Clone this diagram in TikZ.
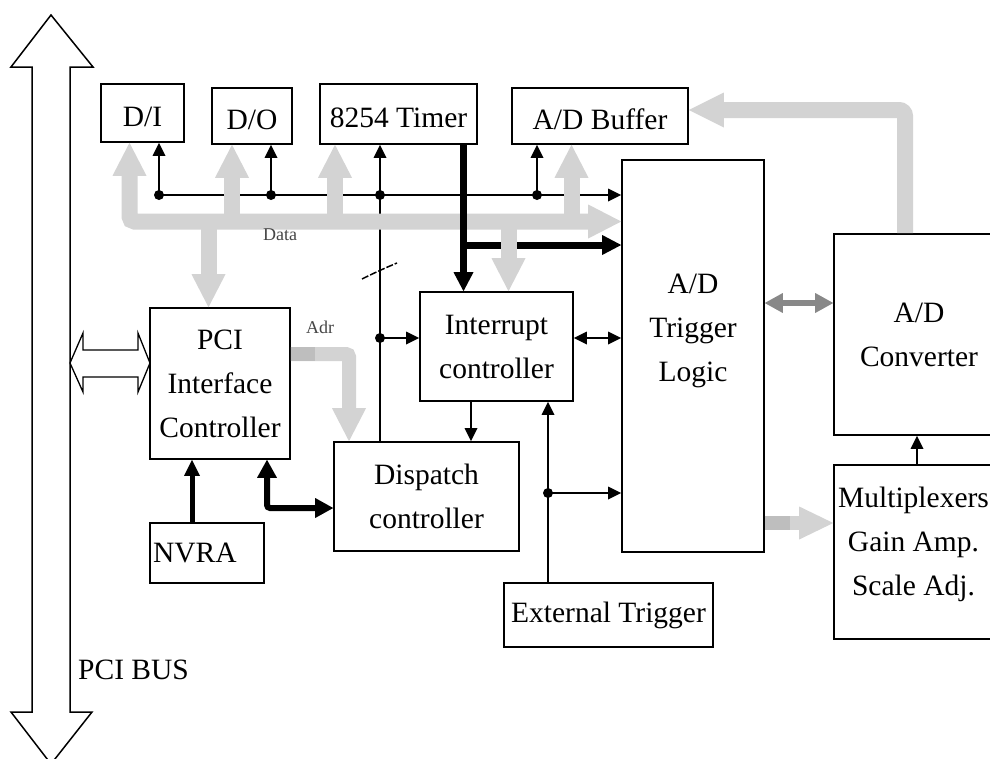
\documentclass[tikz,border=0pt]{standalone}
\usepackage{fontspec}
\setmainfont{Liberation Serif}
\usetikzlibrary{arrows.meta}
\definecolor{busgray}{RGB}{211,211,211}
\definecolor{busdark}{RGB}{190,190,190}
\definecolor{midgray}{RGB}{136,136,136}
\definecolor{labgray}{RGB}{70,70,70}
\newcommand\boxfont{\fontsize{29.5pt}{44pt}\selectfont}
\newcommand\smallfont{\fontsize{18pt}{20pt}\selectfont}
\begin{document}
\begin{tikzpicture}[x=1pt,y=-1pt,
  box/.style={draw, line width=1.6pt, inner sep=0pt, font=\boxfont, align=center},
  oneline/.style={text height=27pt, text depth=0pt},
  txt/.style={font=\boxfont, align=center, inner sep=0pt},
  fattip/.tip={Triangle[length=33pt,width=34pt,line width=0pt]},
  smalltip/.tip={Triangle[length=13pt,width=13pt,line width=0pt]},
  boldtip/.tip={Triangle[length=19pt,width=20pt,line width=0pt]},
  nvtip/.tip={Triangle[length=16pt,width=16pt,line width=0pt]},
  midtip/.tip={Triangle[length=18pt,width=20pt,line width=0pt]},
  busline/.style={draw=busgray, line width=16pt},
  busthin/.style={draw=busgray, line width=14pt},
  sig/.style={draw, line width=1.5pt},
  boldsig/.style={draw, line width=7pt},
  dot/.style={fill=black}
]
\clip (0,0) rectangle (990,758);
\fill[white] (0,0) rectangle (990,758);

% PCI bus big double arrow
\draw[line width=1.5pt, fill=white] (51,15) -- (93,67) -- (70,67) -- (70,712) -- (92,712) -- (51,764)
  -- (11,712) -- (32,712) -- (32,67) -- (11,67) -- cycle;
\node[txt, anchor=base west] (busl) at (78,679) {PCI BUS};

% small hollow double arrow
\draw[line width=1.3pt, fill=white] (70,363) -- (83,333) -- (83,350) -- (138,350) -- (138,333) -- (150,363)
  -- (138,392) -- (138,377) -- (83,377) -- (83,392) -- cycle;

% boxes
\node[box, oneline, minimum width=83pt, minimum height=58pt] (di) at (142.5,113) {D/I};
\node[box, oneline, minimum width=80pt, minimum height=56pt] (do) at (252,116) {D/O};
\node[box, oneline, minimum width=157pt, minimum height=60pt] (timer) at (398.5,114) {8254 Timer};
\node[box, oneline, minimum width=176pt, minimum height=56pt] (buf) at (600,116) {A/D Buffer};
\node[box, minimum width=142pt, minimum height=392pt] (tl) at (693,356) {};
\node[txt] (tltext) at (693,331) {A/D\\Trigger\\Logic};
\node[box, minimum width=170pt, minimum height=201pt] (conv) at (919,334.5) {A/D\\Converter};
\node[box, minimum width=170pt, minimum height=174pt] (mux) at (919,552) {};
\node[txt] (muxtext) at (913.5,544) {Multiplexers\\Gain Amp.\\Scale Adj.};
\node[box, minimum width=209pt, minimum height=64pt] (ext) at (608.5,615) {External Trigger};
\node[box, minimum width=153pt, minimum height=109pt] (intr) at (496.5,346.5) {Interrupt\\controller};
\node[box, minimum width=185pt, minimum height=109pt] (disp) at (426.5,496.5) {Dispatch\\controller};
\node[box, minimum width=140pt, minimum height=151pt] (pci) at (220,383.5) {PCI\\Interface\\Controller};
\node[box, minimum width=114pt, minimum height=60pt, text width=108pt, align=left] (nvra) at (207,553) {NVRA};

% thin signal lines
\draw[sig, -smalltip] (159,195) -- (159,0 |- di.south);
\draw[sig, -smalltip] (159,195) -- (tl.west |- 0,195);
\draw[sig, -smalltip] (271,195) -- (271,0 |- do.south);
\draw[sig, -smalltip] (380,0 |- disp.north) -- (380,0 |- timer.south);
\draw[sig, -smalltip] (380,338) -- (intr.west |- 0,338);
\draw[sig, -smalltip] (537,195) -- (537,0 |- buf.south);
\draw[sig, smalltip-smalltip] (intr.east |- 0,338) -- (tl.west |- 0,338);
\draw[sig, -smalltip] (471,0 |- intr.south) -- (471,0 |- disp.north);
\draw[sig, -smalltip] (548,0 |- ext.north) -- (548,0 |- intr.south);
\draw[sig, -smalltip] (548,493) -- (tl.west |- 0,493);
\draw[sig, -smalltip] (917,0 |- mux.north) -- (917,0 |- conv.south);
\foreach \p in {(159,195),(271,195),(380,195),(537,195),(380,338),(548,493)}
  \fill[dot] \p circle (5pt);
\draw[line width=1.5pt, dash pattern=on 7pt off 2pt] (362,279) .. controls (374,273) and (385,268) .. (397,263);

% thick black horizontal from timer line
\draw[boldsig, -boldtip] (463.5,245) -- (tl.west |- 0,245);

% gray data bus
\draw[busline, fattip-fattip, rounded corners=5pt] (129.5,0 |- di.south) |- (tl.west |- 0,221.5);
\draw[busline, -fattip] (232,221.5) -- (232,0 |- do.south);
\draw[busline, -fattip] (335,221.5) -- (335,0 |- timer.south);
\draw[busline, -fattip] (571.5,221.5) -- (571.5,0 |- buf.south);
\draw[busline, -fattip] (208.5,221.5) -- (208.5,0 |- pci.north);
\draw[busline, -fattip] (508.5,221.5) -- (508.5,0 |- intr.north);
\node[font=\smallfont, text=labgray, inner sep=0pt] (datal) at (280,235) {Data};

% A/D converter to buffer
\draw[busline, -{Triangle[length=35pt,width=35pt,line width=0pt]}, rounded corners=6pt]
  (905,0 |- conv.north) |- (buf.east |- 0,110);

% Adr
\draw[busthin, -fattip, rounded corners=3pt] (pci.east |- 0,354) -| (349,0 |- disp.north);
\fill[busdark] (291,347) rectangle (315,361);
\node[font=\smallfont, text=labgray, inner sep=0pt] (adrl) at (320,327) {Adr};

% trigger logic to multiplexers
\draw[busthin, -{Triangle[length=34pt,width=33pt,line width=0pt]}] (tl.east |- 0,523) -- (mux.west |- 0,523);
\fill[busdark] (765,516) rectangle (790,530);

% trigger logic <-> converter
\draw[draw=midgray, line width=6pt, midtip-midtip] (tl.east |- 0,303) -- (conv.west |- 0,303);

% thick black
\draw[boldsig, -boldtip] (463.5,0 |- timer.south) -- (463.5,0 |- intr.north);
\draw[draw, line width=5pt, -nvtip] (192,0 |- nvra.north) -- (192,0 |- pci.south);
\draw[draw, line width=6pt, midtip-midtip, rounded corners=3pt] (267,0 |- pci.south) |- (disp.west |- 0,508);
\end{tikzpicture}
\end{document}
